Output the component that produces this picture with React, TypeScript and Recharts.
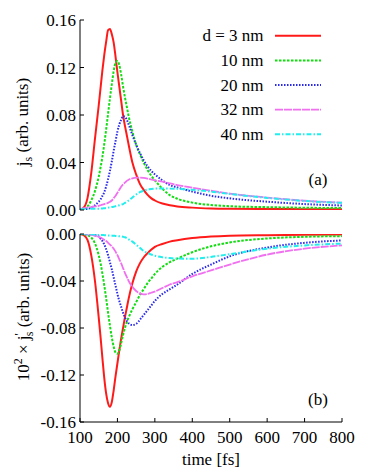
import React from "react";
import { LineChart, Line, XAxis, YAxis } from "recharts";

const times = [100,110,120,130,140,150,155,160,165,170,175,180,185,190,195,200,205,210,215,220,225,230,240,250,260,270,280,290,300,320,340,360,400,450,500,600,700,800];

// panel (a): j_s
const jsD3 = [0.0002,0.002,0.010,0.031,0.060,0.088,0.103,0.118,0.131,0.142,0.1515,0.1525,0.148,0.141,0.129,0.116,0.104,0.092,0.080,0.071,0.063,0.055,0.040,0.030,0.022,0.017,0.013,0.010,0.008,0.0055,0.004,0.003,0.002,0.0013,0.001,0.0008,0.0007,0.0006];
const jsD10 = [0.0005,0.001,0.003,0.008,0.016,0.028,0.036,0.045,0.056,0.068,0.081,0.094,0.106,0.117,0.124,0.1255,0.122,0.114,0.104,0.095,0.087,0.079,0.066,0.055,0.047,0.040,0.034,0.029,0.025,0.018,0.0125,0.0095,0.0062,0.0042,0.0032,0.0024,0.0019,0.0016];
const jsD20 = [0.0003,0.0005,0.001,0.002,0.004,0.007,0.009,0.012,0.015,0.020,0.026,0.033,0.041,0.050,0.058,0.066,0.072,0.076,0.079,0.0785,0.076,0.072,0.063,0.055,0.048,0.042,0.037,0.033,0.030,0.025,0.021,0.019,0.0155,0.012,0.0098,0.007,0.005,0.0038];
const jsD32 = [0.001,0.0015,0.002,0.0025,0.003,0.0035,0.004,0.0045,0.005,0.0055,0.006,0.007,0.008,0.010,0.012,0.0145,0.017,0.0195,0.0215,0.023,0.0245,0.0255,0.0267,0.0272,0.0272,0.027,0.0265,0.0258,0.025,0.0238,0.0225,0.021,0.0188,0.0162,0.0138,0.0105,0.0078,0.0062];
const jsD40 = [0.0005,0.0008,0.001,0.001,0.001,0.001,0.0012,0.0013,0.0015,0.0017,0.002,0.0022,0.0025,0.0028,0.0032,0.0036,0.004,0.0045,0.005,0.006,0.007,0.008,0.0105,0.013,0.015,0.0163,0.0172,0.0177,0.018,0.0181,0.018,0.0178,0.017,0.0155,0.0135,0.0102,0.0076,0.006];

// panel (b): 10^2 x j'_s
const dD3 = [0,-0.001,-0.005,-0.018,-0.040,-0.071,-0.088,-0.106,-0.123,-0.136,-0.144,-0.147,-0.143,-0.133,-0.121,-0.110,-0.099,-0.089,-0.080,-0.071,-0.063,-0.055,-0.042,-0.032,-0.025,-0.020,-0.0165,-0.0135,-0.011,-0.0085,-0.0065,-0.0053,-0.0035,-0.0022,-0.0015,-0.001,-0.0007,-0.0005];
const dD10 = [0,-0.0003,-0.001,-0.003,-0.008,-0.018,-0.025,-0.034,-0.044,-0.055,-0.067,-0.078,-0.088,-0.096,-0.101,-0.102,-0.099,-0.093,-0.086,-0.080,-0.075,-0.071,-0.064,-0.058,-0.052,-0.047,-0.042,-0.038,-0.034,-0.028,-0.024,-0.021,-0.0155,-0.0105,-0.0072,-0.0038,-0.0024,-0.0018];
const dD20 = [0,0,-0.0003,-0.0005,-0.001,-0.002,-0.004,-0.006,-0.009,-0.013,-0.018,-0.024,-0.030,-0.037,-0.044,-0.051,-0.057,-0.062,-0.067,-0.071,-0.074,-0.076,-0.0775,-0.0765,-0.073,-0.069,-0.065,-0.061,-0.057,-0.051,-0.047,-0.043,-0.034,-0.026,-0.019,-0.0115,-0.0075,-0.0055];
const dD32 = [0,-0.0001,-0.0003,-0.0007,-0.0015,-0.0025,-0.003,-0.004,-0.005,-0.006,-0.0075,-0.009,-0.0105,-0.0125,-0.015,-0.018,-0.0215,-0.025,-0.029,-0.033,-0.0365,-0.040,-0.045,-0.0485,-0.0505,-0.0513,-0.051,-0.050,-0.049,-0.046,-0.043,-0.041,-0.036,-0.031,-0.026,-0.0175,-0.0125,-0.0097];
const dD40 = [0,0,-0.0002,-0.0003,-0.0005,-0.0007,-0.0008,-0.0009,-0.001,-0.0011,-0.0012,-0.0013,-0.0014,-0.0015,-0.0016,-0.0017,-0.0019,-0.0021,-0.0024,-0.0028,-0.0035,-0.0045,-0.0065,-0.009,-0.0118,-0.0145,-0.0162,-0.0175,-0.0185,-0.0198,-0.0205,-0.0209,-0.021,-0.0195,-0.0172,-0.0125,-0.0097,-0.0082];

const seriesKeys = ["d3", "d10", "d20", "d32", "d40"];
const seriesNames = ["d = 3 nm", "10 nm", "20 nm", "32 nm", "40 nm"];
const seriesColors = ["#ff1a1a", "#11dd11", "#2a2aee", "#f070f0", "#22eeee"];
const seriesDash = ["", "2.5 1.5", "1.5 1.5", "8 1", "5 2 1.5 2"];
const seriesWidth = [2, 2, 2, 1.8, 2];

const xTicks = [100, 200, 300, 400, 500, 600, 700, 800];
const topTicks = [0, 0.04, 0.08, 0.12, 0.16];
const bottomTicks = [-0.16, -0.12, -0.08, -0.04, 0];

const topRows = times.map((t, i) => ({ t, d3: jsD3[i], d10: jsD10[i], d20: jsD20[i], d32: jsD32[i], d40: jsD40[i] }));
const bottomRows = times.map((t, i) => ({ t, d3: dD3[i], d10: dD10[i], d20: dD20[i], d32: dD32[i], d40: dD40[i] }));

const FONT = "Liberation Serif";
const tickStyle = { fontFamily: FONT, fontSize: 17, fill: "#000" };
const fmt = (v: number) => v.toFixed(2);

function axes(yDomain: number[], yTicks: number[], showX: boolean) {
  return [
    <XAxis key="xb" xAxisId="b" dataKey="t" type="number" domain={[100, 800]} ticks={xTicks} allowDataOverflow
      interval={0} height={showX ? 48 : 0} tick={showX ? tickStyle : false} tickSize={-4} tickMargin={13}
      axisLine={{ stroke: "#000" }} tickLine={{ stroke: "#000" }} />,
    <XAxis key="xt" xAxisId="t" dataKey="t" type="number" orientation="top" domain={[100, 800]} ticks={xTicks} allowDataOverflow
      interval={0} height={0} tick={false} tickSize={-4} axisLine={{ stroke: "#000" }} tickLine={{ stroke: "#000" }} />,
    <YAxis key="yl" yAxisId="l" type="number" domain={yDomain} ticks={yTicks} allowDataOverflow interval={0}
      width={70} tick={tickStyle} tickFormatter={fmt} tickSize={-4} tickMargin={8}
      axisLine={{ stroke: "#000" }} tickLine={{ stroke: "#000" }} />,
    <YAxis key="yr" yAxisId="r" type="number" orientation="right" domain={yDomain} ticks={yTicks} allowDataOverflow interval={0}
      width={0} tick={false} tickSize={-4} axisLine={{ stroke: "#000" }} tickLine={{ stroke: "#000" }} />,
  ];
}

function lines() {
  return seriesKeys.map((k, i) => (
    <Line key={k} xAxisId="b" yAxisId="l" dataKey={k} name={seriesNames[i]} type="monotone"
      stroke={seriesColors[i]} strokeWidth={seriesWidth[i]} strokeDasharray={seriesDash[i] || undefined}
      dot={false} activeDot={false} isAnimationActive={false} />
  ));
}

const TopYLabel = () => (
  <text transform="rotate(-90 28 122)" x={28} y={122} textAnchor="middle" fontFamily={FONT} fontSize={17} fill="#000">
    j<tspan dy={4} fontSize={12}>s</tspan><tspan dy={-4}> (arb. units)</tspan>
  </text>
);

const BottomYLabel = () => (
  <text transform="rotate(-90 29 95)" x={29} y={95} textAnchor="middle" fontFamily={FONT} fontSize={17} fill="#000">
    10<tspan dy={-7} fontSize={12}>2</tspan><tspan dy={7}> × j</tspan><tspan dy={-6} fontSize={12}>'</tspan><tspan dy={10} dx={-3} fontSize={12}>s</tspan><tspan dy={-4}> (arb. units)</tspan>
  </text>
);

const XLabel = () => (
  <text x={211} y={243} textAnchor="middle" fontFamily={FONT} fontSize={17} fill="#000">time [fs]</text>
);

const legendRows = [35.7, 60.4, 85, 109.6, 134.2];

export default function App() {
  return (
    <div style={{ position: "absolute", left: 0, top: 0, width: 374, height: 470, background: "#fff", fontFamily: FONT }}>
      <div style={{ position: "absolute", left: 0, top: 0 }}>
        <LineChart width={374} height={222} data={topRows} margin={{ top: 20, right: 32, bottom: 12, left: 10 }}>
          {axes([0, 0.16], topTicks, false)}
          {lines()}
          <TopYLabel />
        </LineChart>
      </div>
      <div style={{ position: "absolute", left: 0, top: 222 }}>
        <LineChart width={374} height={248} data={bottomRows} margin={{ top: 12, right: 32, bottom: 0, left: 10 }}>
          {axes([-0.16, 0], bottomTicks, true)}
          {lines()}
          <BottomYLabel />
          <XLabel />
        </LineChart>
      </div>
      <svg width={374} height={470} style={{ position: "absolute", left: 0, top: 0, pointerEvents: "none" }}>
        {seriesNames.map((n, i) => (
          <g key={n}>
            <text x={263.5} y={legendRows[i] + 5.5} textAnchor="end" fontFamily={FONT} fontSize={17} fill="#000">{n}</text>
            <line x1={275} x2={321} y1={legendRows[i]} y2={legendRows[i]} stroke={seriesColors[i]}
              strokeWidth={seriesWidth[i]} strokeDasharray={seriesDash[i] || undefined} />
          </g>
        ))}
        <text x={318} y={185} textAnchor="middle" fontFamily={FONT} fontSize={17} fill="#000">(a)</text>
        <text x={318} y={405} textAnchor="middle" fontFamily={FONT} fontSize={17} fill="#000">(b)</text>
      </svg>
    </div>
  );
}
